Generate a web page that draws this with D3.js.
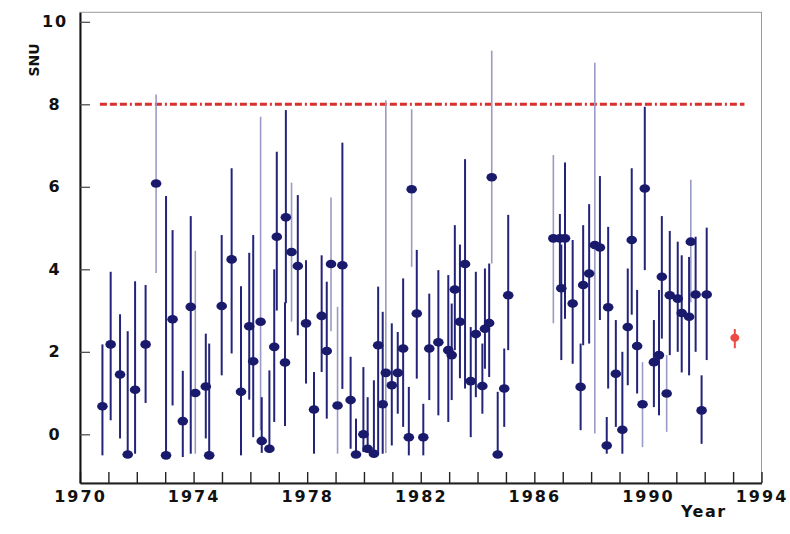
<!DOCTYPE html>
<html><head><meta charset="utf-8">
<script src="https://cdn.jsdelivr.net/npm/d3@7"></script>
<style>html,body{margin:0;padding:0;background:#fff;} svg{display:block;}</style>
</head><body>
<svg id="c" width="790" height="534"></svg>
<script>
// ---- data ----
const years = [1970.79,1971.08,1971.41,1971.68,1971.94,1972.31,1972.68,1973.03,1973.26,1973.62,
  1973.90,1974.06,1974.43,1974.55,1974.99,1975.34,1975.67,1975.96,1976.10,1976.36,
  1976.40,1976.67,1976.84,1976.93,1977.22,1977.25,1977.45,1977.67,1977.96,1978.24,
  1978.51,1978.69,1978.84,1979.07,1979.24,1979.53,1979.72,1979.98,1980.13,1980.35,
  1980.50,1980.66,1980.77,1980.98,1981.19,1981.38,1981.58,1981.68,1981.86,1982.09,
  1982.30,1982.62,1982.97,1983.09,1983.20,1983.38,1983.56,1983.76,1983.94,1984.17,
  1984.26,1984.41,1984.50,1984.71,1984.94,1985.08,1986.67,1986.90,1986.95,1987.08,
  1987.35,1987.63,1987.72,1987.93,1988.13,1988.31,1988.55,1988.60,1988.87,1989.10,
  1989.29,1989.43,1989.62,1989.81,1989.89,1990.21,1990.39,1990.49,1990.66,1990.77,
  1991.05,1991.19,1991.45,1991.51,1991.68,1991.89,1992.07];
const snu = [0.68,2.18,1.45,-0.49,1.08,2.18,6.08,-0.51,2.79,0.32,
  3.09,1.00,1.16,-0.51,3.11,4.24,1.03,2.62,1.77,2.73,
  -0.16,-0.35,2.12,4.79,1.74,5.26,4.42,4.08,2.69,0.60,
  2.87,2.02,4.13,0.70,4.10,0.83,-0.49,0.00,-0.35,-0.47,
  2.16,0.73,1.49,1.19,1.49,2.08,-0.07,5.94,2.93,-0.07,
  2.08,2.23,2.04,1.92,3.51,2.73,4.13,1.29,2.43,1.17,
  2.56,2.70,6.23,-0.49,1.11,3.37,4.75,4.75,3.54,4.75,
  3.17,1.15,3.62,3.90,4.59,4.53,-0.27,3.08,1.47,0.11,
  2.60,4.71,2.14,0.73,5.96,1.75,1.92,3.82,0.99,3.37,
  3.29,2.94,2.85,4.67,3.39,0.58,3.39];
const snuLo = [-0.51,0.34,-0.10,-0.55,-0.47,0.76,3.91,-0.55,0.70,-0.55,
  -0.47,-0.47,-0.10,-0.55,1.43,1.96,-0.51,0.84,-0.07,0.10,
  -0.45,-0.45,0.30,3.00,0.20,3.18,2.73,2.40,1.23,-0.47,
  1.51,0.38,2.50,-0.47,1.10,-0.35,-0.55,-0.43,-0.45,-0.50,
  -0.47,-0.47,-0.45,-0.27,0.50,0.18,-0.51,4.06,1.35,-0.51,
  0.83,0.46,0.30,0.83,2.04,1.36,1.11,-0.07,0.90,0.50,
  1.59,1.39,4.14,-0.55,0.18,2.04,2.69,3.50,1.80,2.80,
  1.71,0.10,2.16,2.20,0.02,2.77,-0.47,1.11,0.18,-0.47,
  1.19,2.90,0.99,-0.31,3.98,0.66,0.46,2.32,0.06,1.92,
  2.00,1.50,1.43,3.20,2.00,-0.23,1.80];
const snuHi = [2.18,3.94,2.91,2.50,3.71,3.62,8.24,5.78,4.95,1.54,
  5.29,4.45,2.44,2.20,4.83,6.45,3.59,4.40,4.83,7.70,
  0.90,1.55,4.00,6.85,3.20,7.86,6.10,5.80,4.22,1.51,
  4.34,3.70,5.74,3.09,7.07,1.88,0.38,1.63,0.90,1.31,
  3.58,2.97,8.10,2.69,2.48,3.78,1.15,7.88,4.47,0.74,
  3.41,3.98,3.86,3.17,5.07,4.60,6.67,2.60,3.94,2.20,
  4.02,4.14,9.30,1.03,2.08,5.32,6.77,5.34,4.60,6.59,
  4.71,2.20,5.07,5.58,9.01,6.26,0.42,5.03,2.77,2.00,
  4.02,6.45,3.50,1.75,7.94,2.77,3.50,5.29,1.92,4.93,
  4.67,4.34,4.30,6.17,4.79,1.43,5.01];
// combined result (red)
const avgYear = [1993.06];
const avgSnu = [2.34];
const avgLo = [2.16];
const avgHi = [2.48];
// reference level (dash-dot line)
const refLevel = [8];
const refSpan = [1970.7, 1993.4];
// axes
const xDomain = [1970, 1994];
const yDomain = [-1.18, 10.23];
const xTicks = d3.range(1970, 1995, 1);
const xLabels = [1970, 1974, 1978, 1982, 1986, 1990, 1994];
const yTicks = [0, 2, 4, 6, 8, 10];
const xTitle = "Year";
const yTitle = "SNU";

// ---- drawing ----
const faintYears = new Set([1972.68,1974.06,1976.36,1977.45,1978.84,1979.07,1980.77,1981.68,1984.50,1986.67,1988.13,1989.81,1990.66,1991.51]);
const svg = d3.select("#c");
const L = 80, R = 761.5, T = 12.3, B = 483;
const x = d3.scaleLinear().domain(xDomain).range([L, R]);
const y = d3.scaleLinear().domain(yDomain).range([B, T]);
const font = "'DejaVu Sans', Verdana, sans-serif";

// frame
svg.append("rect").attr("x", L).attr("y", T).attr("width", R - L).attr("height", B - T)
  .attr("fill", "none").attr("stroke", "#9a9a9a").attr("stroke-width", 1);

// reference line
svg.append("line")
  .attr("x1", x(refSpan[0])).attr("x2", x(refSpan[1]))
  .attr("y1", y(refLevel[0])).attr("y2", y(refLevel[0]))
  .attr("stroke", "#d8302c").attr("stroke-width", 3)
  .attr("stroke-dasharray", "7,3,7,3,7,3,2,3");

// data
const pts = years.map((yr, i) => ({yr, v: snu[i], lo: snuLo[i], hi: snuHi[i]}));
const g = svg.append("g");
g.selectAll("line.err").data(pts).join("line").attr("class", "err")
  .attr("x1", d => x(d.yr)).attr("x2", d => x(d.yr))
  .attr("y1", d => y(d.lo)).attr("y2", d => y(d.hi))
  .attr("stroke", d => faintYears.has(d.yr) ? "#9a9ac6" : "#23237a")
  .attr("stroke-width", d => faintYears.has(d.yr) ? 1.6 : 2);
g.selectAll("ellipse.pt").data(pts).join("ellipse").attr("class", "pt")
  .attr("cx", d => x(d.yr)).attr("cy", d => y(d.v))
  .attr("rx", 5.3).attr("ry", 4.3).attr("fill", "#1a1a6c");

// combined point
const avg = avgYear.map((yr, i) => ({yr, v: avgSnu[i], lo: avgLo[i], hi: avgHi[i]}));
svg.selectAll("line.avg").data(avg).join("line").attr("class", "avg")
  .attr("x1", d => x(d.yr)).attr("x2", d => x(d.yr))
  .attr("y1", d => y(d.lo) + 3).attr("y2", d => y(d.hi) - 3)
  .attr("stroke", "#ee4a44").attr("stroke-width", 2);
svg.selectAll("ellipse.avg").data(avg).join("ellipse").attr("class", "avg")
  .attr("cx", d => x(d.yr)).attr("cy", d => y(d.v))
  .attr("rx", 4.5).attr("ry", 4).attr("fill", "#ee4a44");

// x axis
const xa = svg.append("g").attr("transform", `translate(0,${B})`)
  .call(d3.axisBottom(x).tickValues(xTicks).tickSizeInner(-11).tickSizeOuter(0).tickPadding(8)
    .tickFormat(d => xLabels.includes(d) ? String(d) : ""));
xa.select(".domain").attr("stroke", "#222").attr("stroke-width", 2);
xa.selectAll(".tick line").attr("stroke", "#222").attr("stroke-width", 1.4);
xa.selectAll("text").attr("font-family", font).attr("font-weight", "bold")
  .attr("font-size", 16).attr("letter-spacing", 2).attr("fill", "#111");

// y axis
const ya = svg.append("g").attr("transform", `translate(${L},0)`)
  .call(d3.axisLeft(y).tickValues(yTicks).tickSizeInner(-10).tickSizeOuter(0).tickPadding(8)
    .tickFormat(d3.format("d")));
ya.select(".domain").attr("stroke", "#111").attr("stroke-width", 2);
ya.selectAll(".tick line").attr("stroke", "#444").attr("stroke-width", 1.2);
ya.selectAll("text").attr("font-family", font).attr("font-weight", "bold")
  .attr("font-size", 16).attr("letter-spacing", 2).attr("fill", "#111")
  .attr("text-anchor", "middle").attr("x", -25);

// titles
svg.append("text").attr("x", 681).attr("y", 517).text(xTitle)
  .attr("font-family", font).attr("font-weight", "bold").attr("font-size", 16)
  .attr("letter-spacing", 1.5).attr("fill", "#111");
svg.append("text").attr("transform", "translate(38.5,60) rotate(-90)").attr("text-anchor", "middle")
  .text(yTitle).attr("font-family", font).attr("font-weight", "bold").attr("font-size", 14)
  .attr("fill", "#111");
</script>
</body></html>
